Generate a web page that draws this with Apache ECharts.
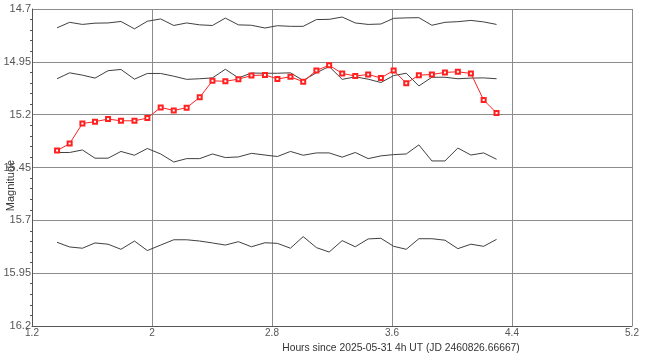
<!DOCTYPE html>
<html>
<head>
<meta charset="utf-8">
<script src="https://cdn.jsdelivr.net/npm/echarts@6/dist/echarts.min.js"></script>
<style>
html, body { margin: 0; padding: 0; background: #fff; }
#chart { width: 655px; height: 363px; }
</style>
</head>
<body>
<div id="chart"></div>
<script>
// hours since 2025-05-31 4h UT, one per observation
const hours = [1.367, 1.451, 1.536, 1.620, 1.707, 1.793, 1.883, 1.969, 2.058, 2.145,
	2.231, 2.318, 2.403, 2.489, 2.576, 2.663, 2.753, 2.836, 2.923, 3.008,
	3.096, 3.181, 3.268, 3.355, 3.441, 3.526, 3.611, 3.695, 3.779, 3.866,
	3.953, 4.039, 4.126, 4.211, 4.297]

// target star (red)
const target = [15.370, 15.337, 15.242, 15.233, 15.221, 15.229, 15.229, 15.216, 15.166, 15.180,
	15.167, 15.118, 15.040, 15.042, 15.032, 15.015, 15.012, 15.031, 15.021, 15.044,
	14.991, 14.966, 15.005, 15.017, 15.010, 15.026, 14.991, 15.051, 15.013, 15.010,
	15.000, 14.997, 15.005, 15.131, 15.192]

// comparison stars (black)
const comp1 = [14.789, 14.763, 14.773, 14.767, 14.766, 14.759, 14.794, 14.758, 14.747, 14.778,
	14.766, 14.775, 14.778, 14.743, 14.775, 14.777, 14.790, 14.779, 14.782, 14.782,
	14.750, 14.749, 14.738, 14.766, 14.773, 14.771, 14.744, 14.742, 14.741, 14.777,
	14.763, 14.760, 14.754, 14.761, 14.773]
const comp2 = [15.030, 15.002, 15.013, 15.027, 14.992, 14.986, 15.032, 15.005, 15.005, 15.018,
	15.033, 15.030, 15.026, 14.985, 15.026, 15.003, 15.004, 15.004, 15.002, 15.038,
	15.002, 14.972, 15.033, 15.021, 15.032, 15.048, 15.015, 15.004, 15.064, 15.023,
	15.023, 15.030, 15.027, 15.026, 15.030]
const comp3 = [15.379, 15.379, 15.367, 15.406, 15.406, 15.374, 15.392, 15.360, 15.386, 15.424,
	15.408, 15.408, 15.386, 15.403, 15.400, 15.383, 15.391, 15.398, 15.374, 15.392,
	15.381, 15.381, 15.401, 15.379, 15.408, 15.395, 15.389, 15.386, 15.343, 15.419,
	15.419, 15.358, 15.391, 15.381, 15.411]
const comp4 = [15.804, 15.826, 15.832, 15.807, 15.813, 15.837, 15.798, 15.843, 15.817, 15.792,
	15.792, 15.798, 15.807, 15.817, 15.801, 15.825, 15.806, 15.809, 15.832, 15.777,
	15.829, 15.850, 15.796, 15.825, 15.788, 15.785, 15.823, 15.837, 15.787, 15.787,
	15.794, 15.834, 15.813, 15.823, 15.790]

const xTickLabels = ['1.2', '2', '2.8', '3.6', '4.4', '5.2']
const yTickLabels = ['14.7', '14.95', '15.2', '15.45', '15.7', '15.95', '16.2']

// axes are drawn from the first tick, so values are shifted to start at 0
const xStart = 1.2, xStep = 0.8
const yStart = 14.7, yStep = 0.25

const font = "'Liberation Sans', Arial, sans-serif"

function toPoints(values) {
	return hours.map((h, i) => [h - xStart, values[i] - yStart])
}

function blackLine(values) {
	return {
		type: 'line',
		data: toPoints(values),
		symbol: 'none',
		silent: true,
		lineStyle: { color: '#404040', width: 1 },
		itemStyle: { color: '#404040' },
	}
}

const chart = echarts.init(document.getElementById('chart'), null, { renderer: 'canvas' })
chart.setOption({
	animation: false,
	backgroundColor: '#fff',
	textStyle: { fontFamily: font },
	grid: { left: 32, right: 23, top: 9, bottom: 37, outerBoundsMode: 'none' },
	xAxis: {
		type: 'value',
		min: 0,
		max: (xTickLabels.length - 1) * xStep,
		interval: xStep,
		axisLine: { show: true, onZero: false, lineStyle: { color: '#555' } },
		axisTick: { show: false },
		axisLabel: {
			margin: 2,
			fontSize: 10,
			color: '#555',
			fontFamily: font,
			formatter: v => xTickLabels[Math.round(v / xStep)],
		},
		splitLine: { show: true, lineStyle: { color: '#8c8c8c', width: 1 } },
		name: 'Hours since 2025-05-31 4h UT (JD 2460826.66667)',
		nameLocation: 'middle',
		nameGap: 17,
		nameMoveOverlap: false,
		nameTextStyle: { fontSize: 10.3, color: '#333', fontFamily: font, padding: [0, 0, 0, 138] },
	},
	yAxis: {
		type: 'value',
		inverse: true,
		min: 0,
		max: (yTickLabels.length - 1) * yStep,
		interval: yStep,
		axisLine: { show: true, onZero: false, lineStyle: { color: '#555' } },
		axisTick: { show: false },
		minorTick: { show: true, splitNumber: 5, length: 2, lineStyle: { color: '#555' } },
		axisLabel: {
			margin: 1,
			fontSize: 11,
			color: '#555',
			fontFamily: font,
			formatter: v => yTickLabels[Math.round(v / yStep)],
		},
		splitLine: { show: true, lineStyle: { color: '#8c8c8c', width: 1 } },
		name: 'Magnitude',
		nameLocation: 'middle',
		nameGap: 16,
		nameMoveOverlap: false,
		// white box hides the first digit of the label it sits on, as in the original
		nameTextStyle: {
			fontSize: 11, color: '#333', fontFamily: font,
			backgroundColor: '#fff', padding: [0, 36, 0, 0],
		},
	},
	series: [
		blackLine(comp1),
		blackLine(comp2),
		blackLine(comp3),
		blackLine(comp4),
		{
			type: 'line',
			data: toPoints(target),
			symbol: 'emptyRect',
			symbolSize: 4,
			silent: true,
			lineStyle: { color: '#ff2020', width: 1 },
			itemStyle: { color: '#ff2020', borderWidth: 1 },
		},
	],
})
</script>
</body>
</html>
